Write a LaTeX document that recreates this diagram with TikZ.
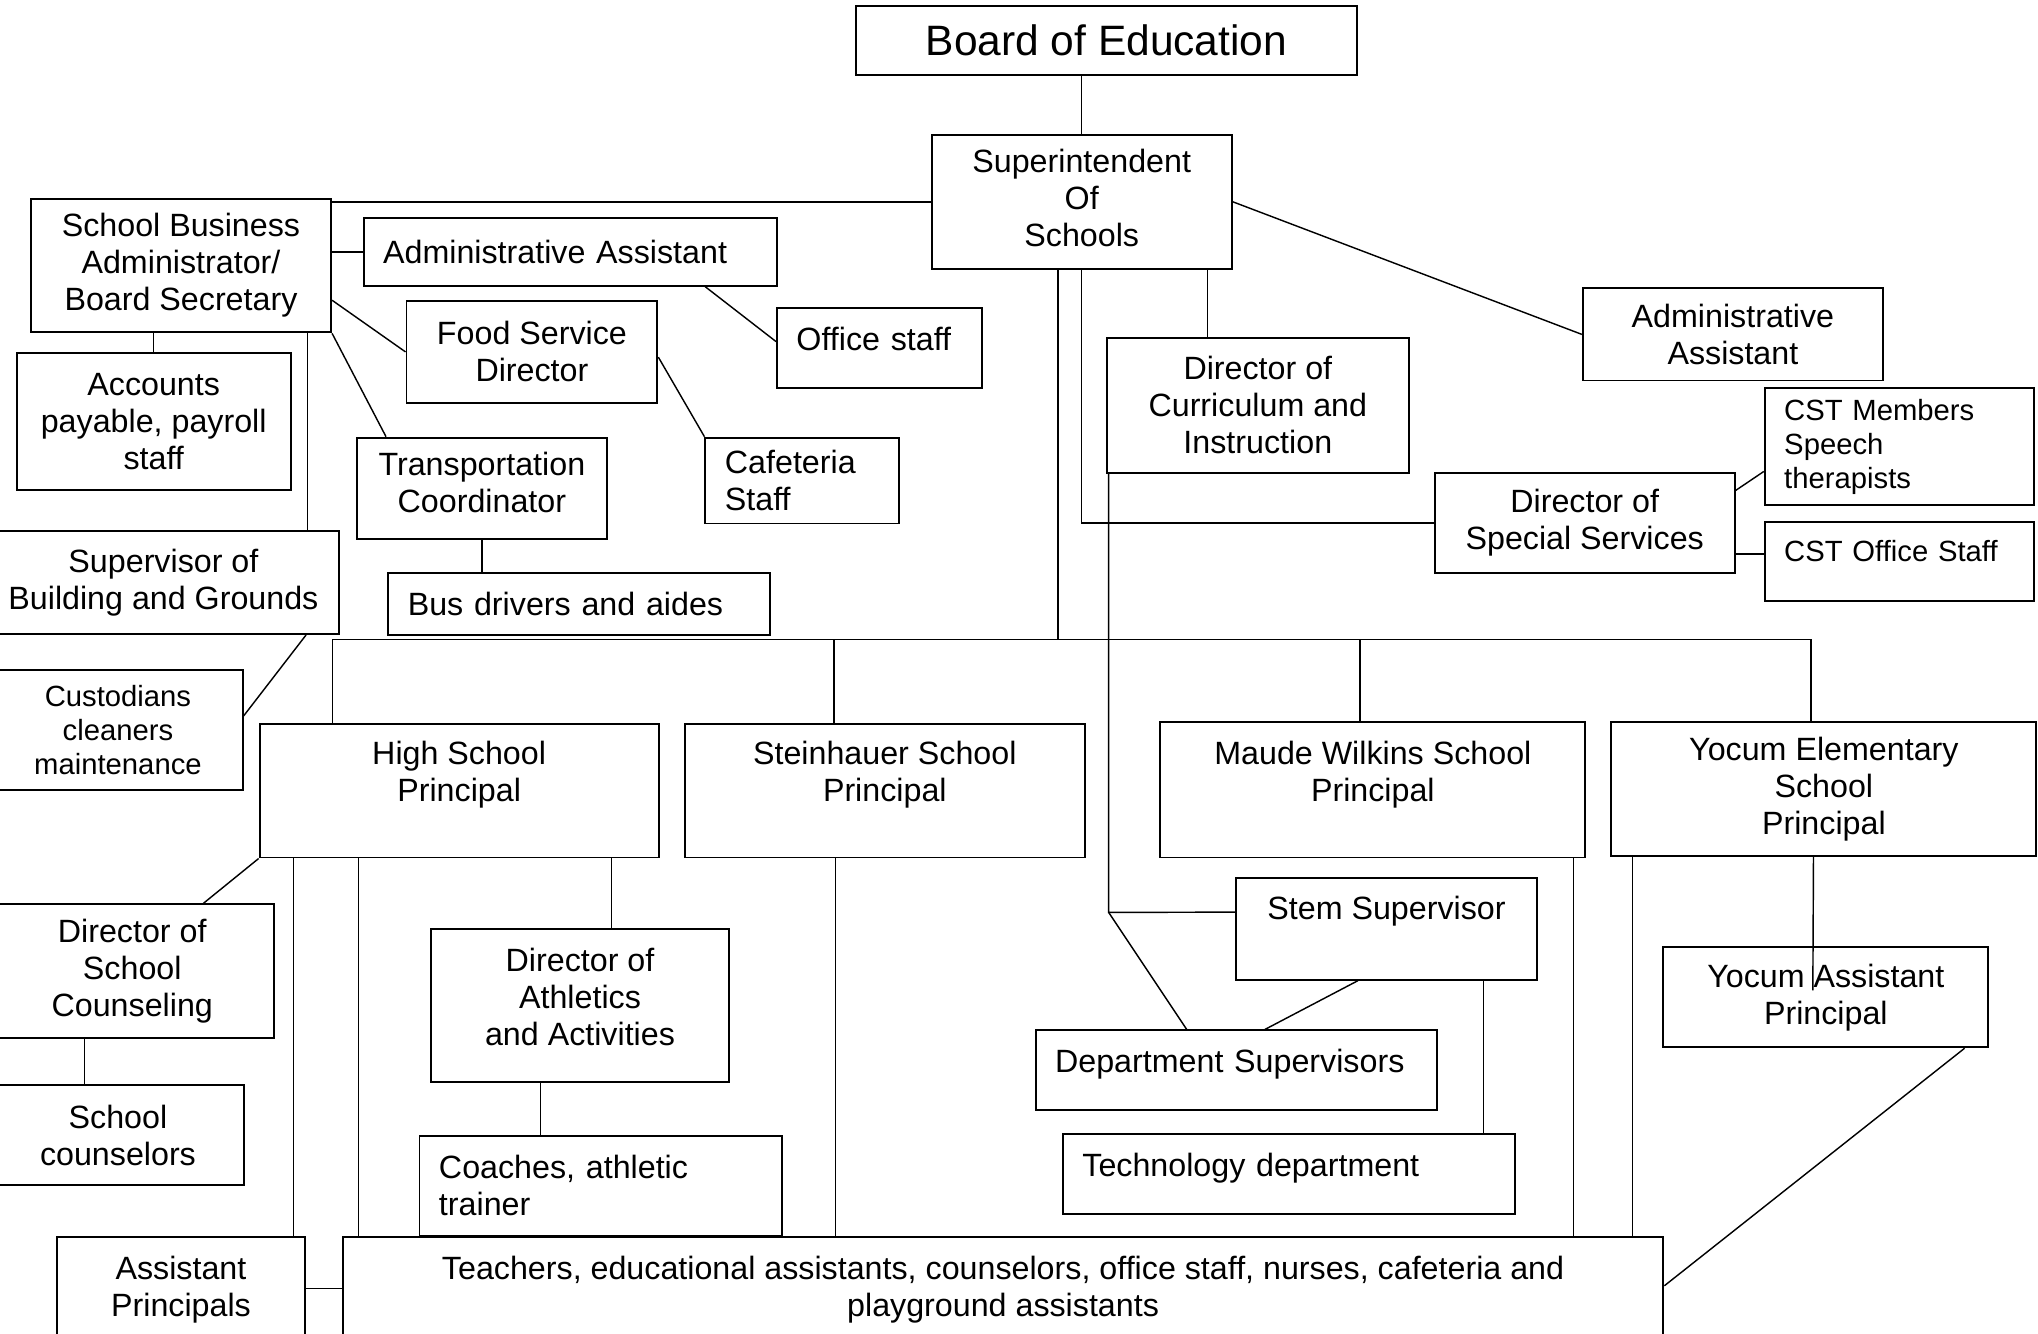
\documentclass[tikz,border=0pt]{standalone}
\usepackage{fontspec}
\setmainfont{Liberation Sans}

\tikzset{
  box/.style={draw, line width=1.5pt, anchor=north west, inner sep=2pt, align=center,
    font=\fontsize{24.8}{28.5}\selectfont},
  lbox/.style={box, align=left, inner xsep=15pt, text width=#1pt},
  wh/.style 2 args={minimum width=#1pt, minimum height=#2pt},
  smalltext/.style={font=\fontsize{22.5}{25.9}\selectfont},
  lift/.style={text depth=#1pt},
}

\begin{document}
\begin{tikzpicture}[x=1pt, y=-1pt, line width=1.1pt]
\useasboundingbox (0,0) rectangle (1568,1026);
\clip (0,0) rectangle (1568,1026);

% top of the chart
\node (board) at (658,4) [box, wh={385}{53}, font=\fontsize{32.7}{37.6}\selectfont] {Board of Education};
\node (super) at (716,103) [box, wh={231}{103}, lift=6] {Superintendent\\Of\\Schools};
\node (curr) at (851,259) [box, wh={232}{104}] {Director of\\Curriculum and\\Instruction};
\node (adminr) at (1217,221) [box, wh={231}{71}] {Administrative\\Assistant};
\node (spec) at (1103,363) [box, wh={231}{77}] {Director of\\Special Services};
\node (cstm) at (1357,298) [lbox=177, smalltext, wh={207}{90}] {CST Members\\Speech\\therapists};
\node (csto) at (1357,401) [lbox=177, smalltext, wh={207}{61}, lift=17] {CST Office Staff};

% business office
\node (sba) at (23,152) [box, wh={231}{103}] {School Business\\Administrator/\\Board Secretary};
\node (adminl) at (279,167) [lbox=288, wh={318}{52}] {Administrative Assistant};
\node (office) at (597,236) [lbox=128, wh={158}{62}, lift=14] {Office staff};
\node (food) at (312,231) [box, wh={193}{78}] {Food Service\\Director};
\node (acct) at (12,271) [box, wh={211}{105}] {Accounts\\payable, payroll\\staff};
\node (trans) at (274,336) [box, wh={192}{78}, lift=10] {Transportation\\Coordinator};
\node (caf) at (542,336) [lbox=119, wh={149}{66}] {Cafeteria\\Staff};
\node (sup) at (-10,408) [box, wh={270}{79}] {Supervisor of\\Building and Grounds};
\node (busd) at (298,440) [lbox=264, wh={294}{48}] {Bus drivers and aides};
\node (cust) at (-6,515) [box, smalltext, wh={192}{92}] {Custodians\\cleaners\\maintenance};

% schools
\node (hs) at (199,556) [box, wh={307}{103}, lift=29] {High School\\Principal};
\node (stein) at (526,556) [box, wh={308}{103}, lift=29] {Steinhauer School\\Principal};
\node (maude) at (892,555) [box, wh={327}{104}, lift=28] {Maude Wilkins School\\Principal};
\node (yocum) at (1239,555) [box, wh={327}{103}] {Yocum Elementary\\School\\Principal};
\node (dsc) at (-8,695) [box, wh={218}{103}] {Director of\\School\\Counseling};
\node (sc) at (-7,834) [box, wh={194}{77}] {School\\counselors};
\node (ath) at (331,714) [box, wh={229}{118}, lift=13] {Director of\\Athletics\\and Activities};
\node (coach) at (322,873) [lbox=249, wh={279}{77}] {Coaches, athletic\\trainer};
\node (stem) at (950,675) [box, wh={232}{78}, lift=32] {Stem Supervisor};
\node (dept) at (796,792) [lbox=279, wh={309}{61}, lift=14] {Department Supervisors};
\node (tech) at (817,872) [lbox=318, wh={348}{61}, lift=14] {Technology department};
\node (yasst) at (1279,728) [box, wh={250}{77}] {Yocum Assistant\\Principal};
\node (asstp) at (43,951) [box, wh={191}{89}, lift=13] {Assistant\\Principals};
\node (teach) at (263,951) [box, wh={1016}{89}, lift=13] {Teachers, educational assistants, counselors, office staff, nurses, cafeteria and\\playground assistants};

% superintendent lines
\draw (board.south -| super.north) -- (super.north);
\draw (super.west) -- (super.west -| sba.east);
\draw (super.east) -- (adminr.west);
\draw ([xshift=78pt]curr.north west) -- ([xshift=78pt]curr.north west |- super.south);
\draw (super.south) |- (spec.west);
\draw ([yshift=25pt]spec.east) -- ([yshift=-19pt]cstm.west);
\draw ([yshift=6pt]csto.west) -- ([yshift=6pt]csto.west -| spec.east);

% business office lines
\draw (adminl.west) -- (adminl.west -| sba.east);
\draw ([xshift=-56pt]adminl.south east) -- ([yshift=5pt]office.west);
\draw (sba.east |- food.north) -- (food.west);
\draw (sba.south east) -- ([xshift=23pt]trans.north west);
\draw (acct.north) -- (acct.north |- sba.south);
\draw ([xshift=-25pt]sup.north east) -- ([xshift=-25pt]sup.north east |- sba.south);
\draw ([yshift=-4pt]food.east) -- (caf.north west);
\draw (trans.south) -- (trans.south |- busd.north);
\draw ([xshift=-26pt]sup.south east) -- ([yshift=11pt]cust.east);

% the principals
\coordinate (bus) at (814,492);
\draw ([xshift=57pt]hs.north west) |- (bus) -| ([xshift=-10pt]yocum.north);
\draw (bus) -- (bus |- super.south);
\draw ([xshift=-39pt]stein.north) -- ([xshift=-39pt]stein.north |- bus);
\draw ([xshift=-10pt]maude.north) -- ([xshift=-10pt]maude.north |- bus);

% curriculum
\coordinate (cjoin) at (853,702);
\draw (cjoin |- curr.south) -- (cjoin) -- ([yshift=13pt]stem.west);
\draw (cjoin) -- ([xshift=117pt]dept.north west);
\draw ([xshift=-22pt]stem.south) -- ([xshift=22pt]dept.north);
\draw ([xshift=-42pt]stem.south east) -- ([xshift=-25pt]tech.north east);

% high school
\draw (hs.south west) -- ([xshift=-55pt]dsc.north east);
\draw ([xshift=72pt]sc.north west) -- ([xshift=72pt]sc.north west |- dsc.south);
\draw ([xshift=27pt]hs.south west) -- ([xshift=27pt]hs.south west |- asstp.north);
\draw ([xshift=77pt]hs.south west) -- ([xshift=77pt]hs.south west |- teach.north);
\draw ([xshift=-37pt]hs.south east) -- ([xshift=-37pt]hs.south east |- ath.north);
\draw ([xshift=85pt]ath.south west) -- ([xshift=85pt]ath.south west |- coach.north);
\draw ([yshift=5pt]asstp.east) -- ([yshift=5pt]teach.west);

% other schools
\draw ([xshift=-38pt]stein.south) -- ([xshift=-38pt]stein.south |- teach.north);
\draw ([xshift=-10pt]maude.south east) -- ([xshift=-10pt]maude.south east |- teach.north);
\draw ([xshift=17pt]yocum.south west) -- ([xshift=17pt]yocum.south west |- teach.north);
\draw ([xshift=-8pt]yocum.south) -- ([xshift=-10pt,yshift=-34pt]yasst.north);
\draw ([xshift=-19pt]yasst.south east) -- ([yshift=7pt]teach.east);
\end{tikzpicture}
\end{document}
